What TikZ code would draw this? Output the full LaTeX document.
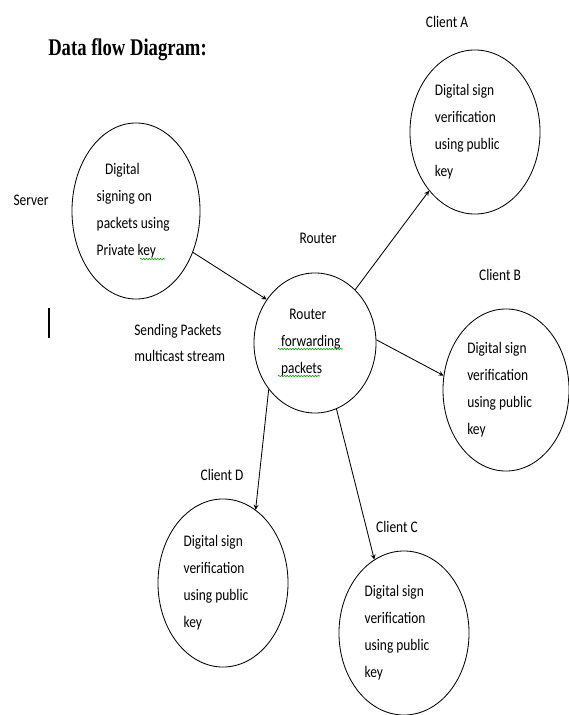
\documentclass[tikz,border=0pt]{standalone}
\usepackage{fontspec}
\setmainfont{Carlito}[FakeStretch=0.83]
\newfontfamily\titlefont{Liberation Serif}[FakeStretch=0.78]
\usetikzlibrary{arrows.meta, shapes.geometric, decorations.pathmorphing}

\begin{document}
\begin{tikzpicture}[
    x=0.025cm, y=-0.025cm,
    bubble/.style={ellipse, draw, line width=0.6pt, align=left, inner sep=0pt, font=\fontsize{11.5}{19.2}\selectfont},
    client/.style={bubble, minimum width=3.25cm, minimum height=4.1cm},
    lbl/.style={font=\fontsize{11.5}{13}\selectfont, inner sep=0pt},
    arrow/.style={->, >=stealth, line width=0.6pt},
    squiggle/.style={draw=green!60!black, line width=0.4pt, decorate, decoration={snake, amplitude=0.5pt, segment length=2pt}}
]
    \useasboundingbox (0,0) rectangle (568,715);

    % Titel
    \node[anchor=west, inner sep=0pt, font=\titlefont\bfseries\fontsize{17}{20}\selectfont] (title) at (48,50) {Data flow Diagram:};

    % Server
    \node[lbl] (serverlbl) at (31,200) {Server};
    \node[bubble, minimum width=3.2cm, minimum height=4.4cm] (server) at (136,211) {\hspace*{6pt}Digital\\signing on\\packets using\rule{4pt}{0pt}\\Private key};

    % Router
    \node[lbl] (routerlbl) at (318,238) {Router};
    \node[bubble, minimum width=3.05cm, minimum height=3.5cm] (router) at (315,343) {\hspace*{6pt}Router\\forwarding\rule{6pt}{0pt}\\packets};
    \node[lbl, align=left, anchor=west, font=\fontsize{11.5}{18.5}\selectfont] (sendlbl) at (134,343) {Sending Packets\\multicast stream};

    % Clients
    \node[lbl] (alabel) at (447,22) {Client A};
    \node[client] (clienta) at (475,132) {Digital sign\\verification\\using public\rule{11pt}{0pt}\\key};
    \node[lbl] (blabel) at (500,275) {Client B};
    \node[client, minimum width=3.15cm, minimum height=4.05cm] (clientb) at (506,390) {Digital sign\\verification\\using public\rule{9pt}{0pt}\\key};
    \node[lbl] (dlabel) at (222,475) {Client D};
    \node[client, minimum height=4.2cm] (clientd) at (223,583) {Digital sign\\verification\\using public\rule{10pt}{0pt}\\key};
    \node[lbl] (clabel) at (397,527) {Client C};
    \node[client] (clientc) at (404,633) {Digital sign\\verification\\using public\rule{10pt}{0pt}\\key};

    % Pfeile
    \draw[arrow] (server.-36) -- (router.138);
    \draw[arrow] (router.53) -- (clienta.-128);
    \draw[arrow] (router.3) -- (clientb.167);
    \draw[arrow] (router.-135) -- (clientd.66);
    \draw[arrow] (router.-72) -- (clientc.112);

    % Cursor
    \draw[line width=1.4pt] (49,308) -- (49,338);

    % Rechtschreibung
    \draw[squiggle] (140,259) -- (165,259);
    \draw[squiggle] (278,349) -- (343,349);
    \draw[squiggle] (278,376) -- (320,376);
\end{tikzpicture}
\end{document}
